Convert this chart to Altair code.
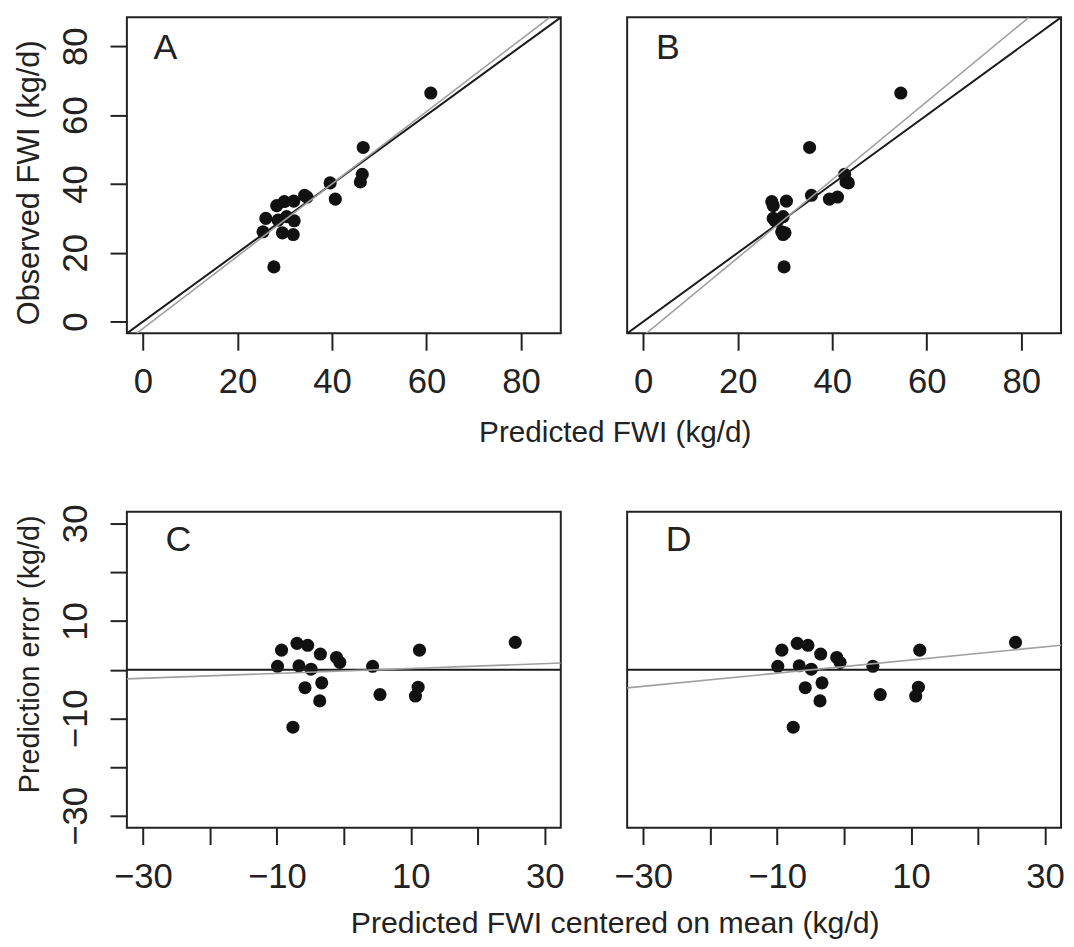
import altair as alt
import pandas as pd

FONT = "Liberation Sans"
INK = "#222222"

# ---- data ----
# panels A and B: observed FWI (kg/d) against predictions of two models
observed = [30.0, 33.7, 34.9, 35.0, 36.7, 36.2, 40.3, 50.6, 66.4, 26.1,
            29.5, 30.5, 25.8, 29.3, 25.3, 15.9, 35.6, 42.8, 40.6]
pred_a = [26.0, 28.3, 29.9, 31.9, 34.2, 34.7, 39.6, 46.6, 60.9, 25.4,
          28.6, 30.4, 29.5, 32.0, 31.8, 27.7, 40.7, 46.4, 46.0]
pred_b = [27.5, 27.5, 27.2, 30.3, 35.6, 41.1, 43.4, 35.2, 54.5, 29.3,
          28.5, 29.6, 30.0, 27.9, 29.6, 29.8, 39.4, 42.6, 42.9]

# panels C and D: prediction error against centred prediction
centered = [-9.3, -7.0, -5.4, -3.5, -1.1, -0.6, 4.3, 11.3, 25.6, -9.9,
            -6.7, -4.9, -5.8, -3.3, -3.6, -7.6, 5.4, 11.1, 10.7]
error = [4.0, 5.4, 5.0, 3.2, 2.5, 1.5, 0.7, 4.0, 5.6, 0.7,
         0.8, 0.1, -3.7, -2.7, -6.4, -11.8, -5.1, -3.6, -5.4]

# reference lines (black) and fitted lines (grey): intercept, slope
line_panel = ["A", "A", "B", "B", "C", "C", "D", "D"]
line_kind = ["ref", "fit", "ref", "fit", "ref", "fit", "ref", "fit"]
line_intercept = [0.0, -2.0, 0.0, -4.13, 0.0, -0.26, 0.0, 0.64]
line_slope = [1.0, 1.05, 1.0, 1.134, 0.0, 0.05, 0.0, 0.135]

ticks_ab = [0, 20, 40, 60, 80]
ticks_cd = [-30, -20, -10, 0, 10, 20, 30]
dom_ab = [-3.4, 88.4]
dom_cd = [-32.4, 32.4]

title_obs = "Observed FWI (kg/d)"
title_pred = "Predicted FWI (kg/d)"
title_err = "Prediction error (kg/d)"
title_cent = "Predicted FWI centered on mean (kg/d)"

W, H = 438, 319


def text_layer(txt, x, y, size, angle=0, align="center"):
    return alt.Chart(pd.DataFrame({"t": [txt]})).mark_text(
        align=align, baseline="alphabetic", font=FONT, fontSize=size,
        color=INK, angle=angle
    ).encode(text="t:N", x=alt.value(x), y=alt.value(y))


def line_rows(a, b, xdom, ydom):
    # segment of y = a + b*x lying inside the panel box
    if b == 0:
        x_lo, x_hi = xdom
    else:
        xa, xb = (ydom[0] - a) / b, (ydom[1] - a) / b
        x_lo, x_hi = max(xdom[0], min(xa, xb)), min(xdom[1], max(xa, xb))
    return [{"x": x_lo, "y": a + b * x_lo}, {"x": x_hi, "y": a + b * x_hi}]


def make_panel(letter, xs, ys, xdom, ydom, xticks, yticks, show_y, sparse,
               letter_x, letter_y, extras):
    pts = pd.DataFrame({"x": xs, "y": ys})
    xsc = alt.Scale(domain=xdom, nice=False, zero=False)
    ysc = alt.Scale(domain=ydom, nice=False, zero=False)
    lexpr = "abs(datum.value) % 20 == 10 ? datum.label : ''" if sparse else "datum.label"
    common = dict(title=None, domain=False, grid=False, ticks=True, tickSize=17,
                  tickWidth=2, tickColor=INK, labelFont=FONT, labelFontSize=35,
                  labelColor=INK, labelFlush=False, labelOverlap=False,
                  labelExpr=lexpr)
    x_axis = alt.Axis(values=xticks, labelPadding=43, labelBaseline="alphabetic", **common)
    if show_y:
        y_axis = alt.Axis(values=yticks, labelAngle=-90, labelAlign="center",
                          labelBaseline="alphabetic", labelPadding=24, **common)
    else:
        y_axis = None

    points = alt.Chart(pts).mark_circle(size=175, color="#111111", opacity=1).encode(
        x=alt.X("x:Q", scale=xsc, axis=x_axis),
        y=alt.Y("y:Q", scale=ysc, axis=y_axis),
    )
    layers = [points]
    for kind, color, width in [("ref", "#1a1a1a", 2.0), ("fit", "#a0a0a0", 1.6)]:
        rows = []
        for p, k, a, b in zip(line_panel, line_kind, line_intercept, line_slope):
            if p == letter and k == kind:
                rows.extend(line_rows(a, b, xdom, ydom))
        layers.append(
            alt.Chart(pd.DataFrame(rows)).mark_line(clip=True, color=color, strokeWidth=width)
            .encode(x=alt.X("x:Q", scale=xsc), y=alt.Y("y:Q", scale=ysc))
        )
    layers.append(text_layer(letter, letter_x, letter_y, 36, align="left"))
    layers.extend(extras)
    return alt.layer(*layers).properties(width=W, height=H)


A = make_panel("A", pred_a, observed, dom_ab, dom_ab, ticks_ab, ticks_ab, True, False,
               27, 42, [text_layer(title_obs, -89, 167, 31, angle=270)])
B = make_panel("B", pred_b, observed, dom_ab, dom_ab, ticks_ab, ticks_ab, False, False,
               29, 42, [text_layer(title_pred, -12, 429, 30)])
C = make_panel("C", centered, error, dom_cd, dom_cd, ticks_cd, ticks_cd, True, True,
               39, 40, [text_layer(title_err, -89, 144, 29, angle=270)])
D = make_panel("D", centered, error, dom_cd, dom_cd, ticks_cd, ticks_cd, False, True,
               39, 40, [text_layer(title_cent, -12, 425, 30.5)])

chart = alt.concat(
    A, B, C, D, columns=2, spacing={"row": 180, "column": 67}, bounds="flush"
).properties(
    padding={"left": 5, "top": 4, "right": 0, "bottom": 0}
).configure_view(stroke=INK, strokeWidth=2)

chart.save("out.html", embed_options={"renderer": "svg", "actions": False})
